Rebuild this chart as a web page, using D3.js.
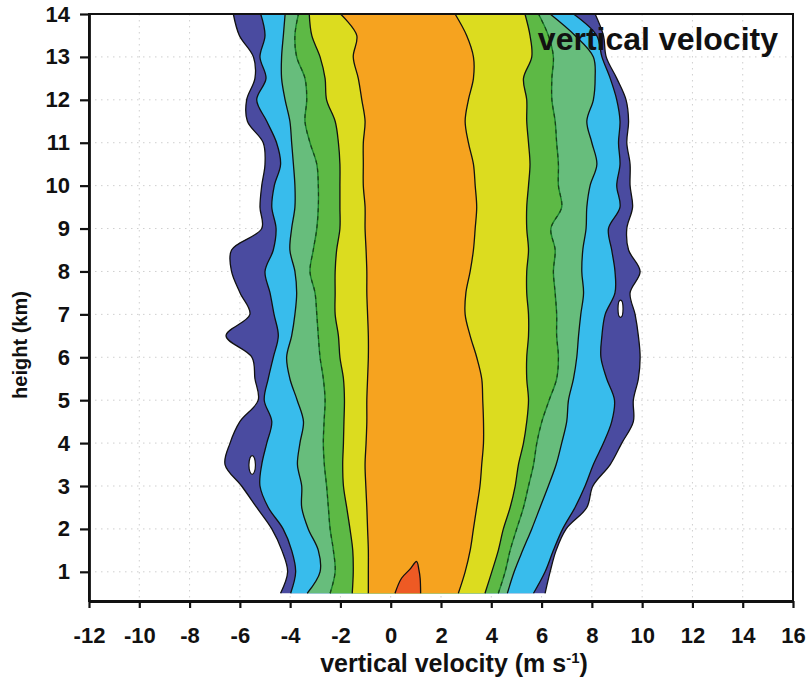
<!DOCTYPE html>
<html>
<head>
<meta charset="utf-8">
<script src="https://cdn.jsdelivr.net/npm/d3@7"></script>
<style>
  body { margin: 0; background: #fff; }
  svg text { font-family: "Liberation Sans", Arial, sans-serif; font-weight: bold; }
</style>
</head>
<body>
<div id="chart"></div>
<script>
// heights (km) where the contour edges were read
var heights = [0.5, 1, 1.5, 2, 2.5, 3, 3.5, 4, 4.5, 5, 5.5, 6, 6.5, 7, 7.5, 8, 8.5, 9, 9.5, 10, 10.5, 11, 11.5, 12, 12.5, 13, 13.5, 14];

// left edges of each filled contour band (m/s)
var dkBlueL = [-4.38, -4.10, -4.33, -4.73, -5.33, -5.93, -6.59, -6.39, -6.00, -5.27, -5.40, -5.52, -6.55, -5.60, -5.99, -6.33, -6.33, -5.13, -5.20, -5.13, -5.00, -5.07, -5.70, -5.73, -5.40, -5.46, -6.02, -6.26];
var cyanL = [-3.98, -3.78, -3.94, -4.28, -4.87, -5.20, -5.13, -4.93, -4.73, -5.03, -4.87, -4.67, -4.47, -4.64, -4.80, -5.00, -4.67, -4.56, -4.73, -4.63, -4.38, -4.54, -4.93, -5.33, -4.96, -5.20, -5.00, -5.17];
var seaL = [-3.32, -2.81, -2.88, -3.28, -3.54, -3.54, -3.71, -3.61, -3.47, -3.72, -4.01, -4.14, -3.94, -3.81, -3.74, -3.81, -4.01, -3.94, -3.81, -3.81, -3.87, -3.94, -4.01, -4.20, -4.34, -4.34, -4.27, -4.20];
var greenL = [-2.41, -2.21, -2.28, -2.41, -2.48, -2.55, -2.64, -2.68, -2.65, -2.61, -2.68, -2.81, -2.88, -2.94, -3.01, -3.21, -3.08, -2.94, -2.88, -2.88, -2.94, -3.21, -3.41, -3.34, -3.41, -3.74, -3.81, -3.67];
var yellowL = [-1.53, -1.49, -1.51, -1.62, -1.75, -1.88, -1.91, -1.88, -1.86, -1.84, -1.88, -2.02, -2.08, -2.21, -2.21, -2.21, -2.15, -2.02, -2.02, -2.02, -2.02, -2.08, -2.21, -2.55, -2.61, -2.81, -3.14, -3.24];
var orangeL = [-0.89, -0.89, -0.89, -0.92, -0.95, -0.99, -1.02, -0.98, -0.95, -0.95, -0.92, -0.89, -0.89, -0.92, -0.95, -0.95, -0.98, -1.02, -1.02, -1.09, -1.09, -1.09, -1.02, -1.15, -1.29, -1.49, -1.35, -2.0];

// right edges
var orangeR = [2.69, 2.96, 3.16, 3.29, 3.42, 3.55, 3.62, 3.69, 3.69, 3.66, 3.62, 3.42, 3.16, 2.96, 2.99, 3.16, 3.29, 3.36, 3.42, 3.36, 3.29, 3.09, 2.96, 3.09, 3.29, 3.29, 3.02, 2.56];
var yellowR = [3.75, 4.02, 4.28, 4.48, 4.75, 4.95, 5.08, 5.28, 5.41, 5.48, 5.41, 5.41, 5.48, 5.48, 5.41, 5.41, 5.48, 5.41, 5.41, 5.48, 5.54, 5.48, 5.41, 5.41, 5.28, 5.61, 5.54, 5.34];
var greenR = [4.28, 4.55, 4.75, 5.01, 5.28, 5.48, 5.68, 5.81, 6.01, 6.30, 6.60, 6.67, 6.60, 6.60, 6.54, 6.47, 6.54, 6.37, 6.80, 6.67, 6.67, 6.60, 6.54, 6.41, 6.41, 6.47, 6.27, 5.88];
var seaR = [4.64, 4.91, 5.25, 5.61, 5.94, 6.27, 6.58, 6.80, 7.00, 7.07, 7.27, 7.40, 7.47, 7.56, 7.67, 7.60, 7.64, 7.77, 7.80, 7.93, 8.20, 8.00, 7.80, 8.06, 8.13, 8.06, 7.33, 6.34];
var cyanR = [5.68, 6.14, 6.47, 6.84, 7.33, 7.73, 8.06, 8.46, 8.79, 8.90, 8.59, 8.36, 8.40, 8.53, 8.92, 8.92, 8.79, 8.66, 9.12, 8.99, 9.12, 9.06, 9.12, 8.99, 8.73, 8.40, 8.19, 7.27];
var dkBlueR = [6.14, 6.34, 6.58, 6.98, 7.80, 8.04, 8.73, 9.19, 9.65, 9.65, 9.85, 9.92, 9.85, 9.72, 9.52, 9.92, 9.46, 9.39, 9.62, 9.52, 9.52, 9.39, 9.46, 9.36, 8.99, 8.57, 8.46, 8.13];

// small red core near the ground
var redH = [0.5, 0.85, 1.05, 1.24];
var redL = [0.17, 0.43, 0.75, 1.03];
var redR = [1.19, 1.17, 1.12, 1.03];

// little white holes inside the outer band
var holeV = [-5.51, 9.14];
var holeH = [3.49, 7.13];
var holeRv = [0.13, 0.1];
var holeRh = [0.22, 0.2];

var xTicks = [-12, -10, -8, -6, -4, -2, 0, 2, 4, 6, 8, 10, 12, 14, 16];
var yTicks = [1, 2, 3, 4, 5, 6, 7, 8, 9, 10, 11, 12, 13, 14];

var width = 810, height = 683;

var svg = d3.select("#chart").append("svg")
  .attr("width", width)
  .attr("height", height);

var x = d3.scaleLinear().domain([-12, 16]).range([89, 793]);
var y = d3.scaleLinear().domain([0.32, 14]).range([601, 14]);

// dotted grid
svg.append("g").selectAll("line.vg")
  .data(xTicks.slice(1, -1)).enter().append("line")
  .attr("x1", d => x(d)).attr("x2", d => x(d))
  .attr("y1", y(14)).attr("y2", y(0.32))
  .attr("stroke", "#cfcfcf").attr("stroke-dasharray", "1.5,4.5");
svg.append("g").selectAll("line.hg")
  .data(yTicks.slice(0, -1)).enter().append("line")
  .attr("x1", x(-12)).attr("x2", x(16))
  .attr("y1", d => y(d)).attr("y2", d => y(d))
  .attr("stroke", "#cfcfcf").attr("stroke-dasharray", "1.5,4.5");

var curve = d3.curveCatmullRom.alpha(0.5);

function band(L, R, color) {
  var area = d3.area()
    .y((d, i) => y(heights[i]))
    .x0((d, i) => x(L[i]))
    .x1((d, i) => x(R[i]))
    .curve(curve);
  svg.append("path").datum(heights)
    .attr("d", area)
    .attr("fill", color);
}

function edge(E, color, dash, w) {
  var line = d3.line()
    .y((d, i) => y(heights[i]))
    .x((d, i) => x(E[i]))
    .curve(curve);
  svg.append("path").datum(heights)
    .attr("d", line)
    .attr("fill", "none")
    .attr("stroke", color)
    .attr("stroke-width", w || 1.3)
    .attr("stroke-dasharray", dash || null);
}

band(dkBlueL, dkBlueR, "#4a4ba0");
band(cyanL, cyanR, "#38bcec");
band(seaL, seaR, "#67bd7c");
band(greenL, greenR, "#5db945");
band(yellowL, yellowR, "#dcdc1f");
band(orangeL, orangeR, "#f6a31f");

// red core
var redArea = d3.area()
  .y((d, i) => y(redH[i]))
  .x0((d, i) => x(redL[i]))
  .x1((d, i) => x(redR[i]))
  .curve(curve);
svg.append("path").datum(redH).attr("d", redArea).attr("fill", "#ee5a24");
var redLine = d3.line().curve(curve);
var redPts = redH.map((h, i) => [x(redL[i]), y(h)])
  .concat(redH.slice(0, -1).map((h, i) => [x(redR[i]), y(h)]).reverse());
svg.append("path").attr("d", redLine(redPts))
  .attr("fill", "none").attr("stroke", "#111").attr("stroke-width", 1.3);

// contour lines
[dkBlueL, dkBlueR, cyanL, cyanR, seaL, seaR, yellowL, yellowR, orangeL, orangeR].forEach(function(E) {
  edge(E, "#111");
});
edge(greenL, "#17802b", null, 1.4);
edge(greenR, "#17802b", null, 1.4);
edge(greenL, "#1a3a1a", "4,4", 1.1);
edge(greenR, "#1a3a1a", "4,4", 1.1);

// holes
svg.append("g").selectAll("ellipse")
  .data(holeV).enter().append("ellipse")
  .attr("cx", (d, i) => x(d))
  .attr("cy", (d, i) => y(holeH[i]))
  .attr("rx", (d, i) => x(d + holeRv[i]) - x(d))
  .attr("ry", (d, i) => y(holeH[i] - holeRh[i]) - y(holeH[i]))
  .attr("fill", "#fff").attr("stroke", "#111").attr("stroke-width", 1.2);

// frame
svg.append("rect")
  .attr("x", x(-12)).attr("y", y(14))
  .attr("width", x(16) - x(-12)).attr("height", y(0.32) - y(14))
  .attr("fill", "none").attr("stroke", "#111").attr("stroke-width", 2);

// axes
var xAxis = d3.axisBottom(x).tickValues(xTicks).tickSize(7).tickPadding(19).tickSizeOuter(0)
  .tickFormat(d => String(d));
var yAxis = d3.axisLeft(y).tickValues(yTicks).tickSize(9).tickPadding(10).tickSizeOuter(0)
  .tickFormat(d => String(d));

var gx = svg.append("g").attr("transform", "translate(0," + y(0.32) + ")").call(xAxis);
var gy = svg.append("g").attr("transform", "translate(" + x(-12) + ",0)").call(yAxis);

[gx, gy].forEach(function(g) {
  g.select(".domain").attr("stroke", "#111").attr("stroke-width", 2.8);
  g.selectAll(".tick line").attr("stroke", "#111").attr("stroke-width", 2.2);
  g.selectAll(".tick text").attr("fill", "#111")
    .style("font-size", "22px")
    .style("font-family", "'Liberation Sans', Arial, sans-serif")
    .style("font-weight", "bold");
});

// axis titles
var xt = svg.append("text")
  .attr("x", 454).attr("y", 672)
  .attr("text-anchor", "middle")
  .style("font-size", "25px")
  .attr("fill", "#111");
xt.append("tspan").text("vertical velocity (m s");
xt.append("tspan").attr("dy", -9).style("font-size", "15px").text("-1");
xt.append("tspan").attr("dy", 9).text(")");

svg.append("text")
  .attr("transform", "translate(27,345) rotate(-90)")
  .attr("text-anchor", "middle")
  .style("font-size", "20px")
  .attr("fill", "#111")
  .text("height (km)");

// title in plot
svg.append("text")
  .attr("x", 778).attr("y", 50)
  .attr("text-anchor", "end")
  .style("font-size", "32px")
  .attr("fill", "#111")
  .text("vertical velocity");
</script>
</body>
</html>
